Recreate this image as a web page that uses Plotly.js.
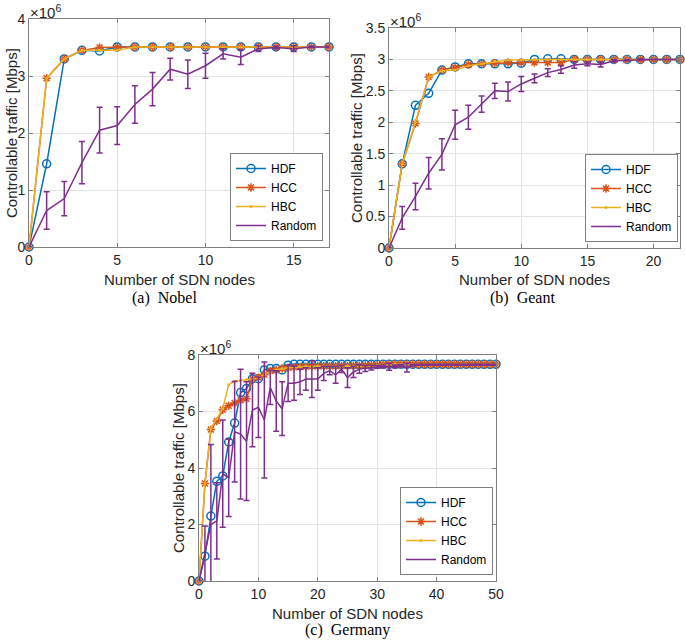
<!DOCTYPE html>
<html>
<head>
<meta charset="utf-8">
<script src="https://cdn.plot.ly/plotly-3.0.1.min.js"></script>
<style>
  body { margin: 0; background: #fff; }
  #chart { width: 685px; height: 643px; }
</style>
</head>
<body>
<div id="chart"></div>
<script>
// values in units of 1e6 Mbps

// (a) Nobel
var xNobel = [0,1,2,3,4,5,6,7,8,9,10,11,12,13,14,15,16,17];
var hdfNobel = [0,1.46,3.30,3.45,3.44,3.51,3.51,3.51,3.51,3.51,3.51,3.51,3.51,3.51,3.51,3.51,3.51,3.51];
var hccNobel = [0,2.96,3.30,3.45,3.50,3.51,3.51,3.51,3.51,3.51,3.51,3.51,3.51,3.51,3.51,3.51,3.51,3.51];
var hbcNobel = [0,2.96,3.30,3.45,3.45,3.45,3.51,3.51,3.51,3.51,3.51,3.51,3.51,3.51,3.51,3.51,3.51,3.51];
var rndNobel = [0,0.64,0.85,1.48,2.05,2.13,2.50,2.77,3.12,3.03,3.18,3.39,3.33,3.48,3.50,3.48,3.51,3.51];
var errNobel = [0,0.33,0.30,0.37,0.40,0.33,0.33,0.29,0.19,0.25,0.22,0.09,0.13,0.05,0.02,0.05,0.01,0.01];

// (b) Geant
var xGeant = [0,1,2,3,4,5,6,7,8,9,10,11,12,13,14,15,16,17,18,19,20,21,22];
var hdfGeant = [0,1.34,2.27,2.46,2.83,2.88,2.93,2.93,2.93,2.93,2.94,3.00,3.01,3.01,3.00,3.00,3.00,3.00,3.00,3.00,3.00,3.00,3.00];
var hccGeant = [0,1.34,1.98,2.72,2.83,2.87,2.92,2.93,2.94,2.95,2.95,2.95,2.95,2.95,3.00,3.00,3.00,3.00,3.00,3.00,3.00,3.00,3.00];
var hbcGeant = [0,1.34,2.00,2.72,2.82,2.83,2.90,2.93,2.97,2.99,2.99,3.00,3.00,3.00,3.00,3.00,3.00,3.00,3.00,3.00,3.00,3.00,3.00];
var rndGeant = [0,0.48,0.82,1.19,1.49,1.96,2.08,2.29,2.50,2.49,2.61,2.70,2.79,2.84,2.91,2.93,2.92,2.98,2.99,3.00,3.00,3.00,3.00];
var errGeant = [0,0.18,0.21,0.25,0.25,0.23,0.19,0.13,0.12,0.15,0.12,0.07,0.06,0.06,0.05,0.03,0.04,0.02,0.01,0.01,0,0,0];

// (c) Germany
var xGermany = [0,1,2,3,4,5,6,7,8,9,10,11,12,13,14,15,16,17,18,19,20,21,22,23,24,25,
  26,27,28,29,30,31,32,33,34,35,36,37,38,39,40,41,42,43,44,45,46,47,48,49,50];
var hdfGermany = [0,0.88,2.30,3.53,3.72,4.92,5.59,6.67,6.81,7.16,7.16,7.47,7.52,7.52,7.47,7.64,
  7.67,7.67,7.67,7.67,7.67,7.67,7.67,7.67,7.67,7.67,7.67,7.67,7.67,7.67,7.67,7.67,7.67,7.67,7.67,
  7.67,7.67,7.67,7.67,7.67,7.67,7.67,7.67,7.67,7.67,7.67,7.67,7.67,7.67,7.67,7.67];
var hccGermany = [0,3.45,5.36,5.66,6.06,6.20,6.30,6.40,6.45,7.15,7.20,7.30,7.43,7.47,7.52,7.55,
  7.57,7.58,7.59,7.60,7.60,7.60,7.60,7.60,7.61,7.61,7.62,7.62,7.63,7.64,7.65,7.66,7.67,7.67,7.67,
  7.67,7.67,7.67,7.67,7.67,7.67,7.67,7.67,7.67,7.67,7.67,7.67,7.67,7.67,7.67,7.67];
var hbcGermany = [0,3.45,5.40,5.75,6.10,6.95,7.08,7.10,7.12,7.15,7.20,7.30,7.42,7.48,7.52,7.55,
  7.57,7.58,7.60,7.60,7.60,7.60,7.60,7.60,7.60,7.60,7.60,7.60,7.60,7.60,7.63,7.65,7.67,7.67,7.67,
  7.67,7.67,7.67,7.67,7.67,7.67,7.67,7.67,7.67,7.67,7.67,7.67,7.67,7.67,7.67,7.67];
var rndGermany = [0,0.95,2.00,2.13,3.80,3.65,5.28,5.20,4.95,6.05,6.15,5.70,6.85,6.37,6.10,7.00,
  7.00,7.05,7.15,7.15,7.15,7.35,7.45,7.30,7.50,7.20,7.40,7.50,7.52,7.55,7.58,7.60,7.58,7.60,7.62,
  7.55,7.64,7.66,7.66,7.66,7.66,7.66,7.66,7.66,7.66,7.66,7.66,7.66,7.66,7.66,7.66];
var errGermany = [0,1.00,2.83,1.35,1.90,1.37,1.78,2.30,2.10,1.30,1.07,2.05,0.60,1.07,0.95,0.65,
  0.60,0.45,0.40,0.65,0.40,0.25,0.15,0.30,0.12,0.35,0.20,0.15,0.10,0.08,0.05,0.05,0.12,0.05,0.04,
  0.15,0.03,0.01,0.01,0.01,0.01,0.01,0.01,0.01,0.01,0.01,0.01,0.01,0.01,0.01,0.01];

var seriesNames = ['HDF', 'HCC', 'HBC', 'Random'];
var colors = ['#0072BD', '#D95319', '#EDB120', '#7E2F8E'];

var W = 685, H = 643;
function px(v) { return v / W; }
function py(v) { return 1 - v / H; }

function makeTraces(x, hdf, hcc, hbc, rnd, err, xa, ya, leg) {
  return [
    {x: x, y: hdf, name: seriesNames[0], xaxis: xa, yaxis: ya, legend: leg,
     type: 'scatter', mode: 'lines+markers', cliponaxis: false,
     line: {color: colors[0], width: 1.5},
     marker: {symbol: 'circle-open', size: 8, color: colors[0], line: {width: 1.5}}},
    {x: x, y: hcc, name: seriesNames[1], xaxis: xa, yaxis: ya, legend: leg,
     type: 'scatter', mode: 'lines+markers', cliponaxis: false,
     line: {color: colors[1], width: 1.5},
     marker: {symbol: 'asterisk-open', size: 7, color: colors[1], line: {width: 1.5, color: colors[1]}}},
    {x: x, y: hbc, name: seriesNames[2], xaxis: xa, yaxis: ya, legend: leg,
     type: 'scatter', mode: 'lines+markers', cliponaxis: false,
     line: {color: colors[2], width: 1.5},
     marker: {symbol: 'circle', size: 3, color: colors[2]}},
    {x: x, y: rnd, name: seriesNames[3], xaxis: xa, yaxis: ya, legend: leg,
     type: 'scatter', mode: 'lines',
     line: {color: colors[3], width: 1.5},
     error_y: {type: 'data', array: err, visible: true, color: colors[3], thickness: 1.5, width: 3}}
  ];
}

var data = []
  .concat(makeTraces(xNobel, hdfNobel, hccNobel, hbcNobel, rndNobel, errNobel, 'x', 'y', 'legend'))
  .concat(makeTraces(xGeant, hdfGeant, hccGeant, hbcGeant, rndGeant, errGeant, 'x2', 'y2', 'legend2'))
  .concat(makeTraces(xGermany, hdfGermany, hccGermany, hbcGermany, rndGermany, errGermany, 'x3', 'y3', 'legend3'));

var tickFont = {family: 'Liberation Sans, Arial, sans-serif', size: 14, color: '#262626'};
var expFont = {family: 'Liberation Sans, Arial, sans-serif', size: 15, color: '#262626'};

function axis(domain, range, dtick, anchor) {
  return {
    domain: domain, range: range, dtick: dtick, anchor: anchor,
    showline: true, mirror: 'ticks', linecolor: '#808080', linewidth: 1,
    ticks: 'inside', ticklen: 4, tickcolor: '#808080',
    showgrid: true, gridcolor: '#e3e3e3', zeroline: false,
    tickfont: tickFont, fixedrange: true
  };
}

function legendBox(right, bottom) {
  return {
    x: px(right), y: py(bottom), xanchor: 'right', yanchor: 'bottom',
    bgcolor: '#ffffff', bordercolor: '#808080', borderwidth: 1,
    font: {family: 'Liberation Sans, Arial, sans-serif', size: 12, color: '#000'},
    itemwidth: 30, tracegroupgap: 0
  };
}

var titleFont = {family: 'Liberation Sans, Arial, sans-serif', size: 15, color: '#262626'};
var captionFont = {family: 'Liberation Serif, serif', size: 16, color: '#000'};

function note(text, x, y, opts) {
  var a = {text: text, x: px(x), y: py(y), xref: 'paper', yref: 'paper',
           showarrow: false, font: titleFont, xanchor: 'center', yanchor: 'middle'};
  for (var k in opts) a[k] = opts[k];
  return a;
}

var annotations = [
  note('Number of SDN nodes', 179, 279),
  note('Controllable traffic [Mbps]', 12, 133, {textangle: -90}),
  note('×10<sup>6</sup>', 28, 0, {xanchor: 'left', yanchor: 'top', font: expFont}),
  note('(a)  Nobel', 164, 298, {font: captionFont}),

  note('Number of SDN nodes', 534, 279),
  note('Controllable traffic [Mbps]', 356, 138, {textangle: -90}),
  note('×10<sup>6</sup>', 388, 9, {xanchor: 'left', yanchor: 'top', font: expFont}),
  note('(b)  Geant', 522, 298, {font: captionFont}),

  note('Number of SDN nodes', 348, 613),
  note('Controllable traffic [Mbps]', 178, 468, {textangle: -90}),
  note('×10<sup>6</sup>', 198, 336, {xanchor: 'left', yanchor: 'top', font: expFont}),
  note('(c)  Germany', 348, 630, {font: captionFont})
];

var layout = {
  width: W, height: H,
  margin: {l: 0, r: 0, t: 0, b: 0},
  paper_bgcolor: '#ffffff', plot_bgcolor: '#ffffff',
  xaxis: axis([px(29), px(329)], [0, 17], 5, 'y'),
  yaxis: axis([py(247), py(19)], [0, 4], 1, 'x'),
  xaxis2: axis([px(389), px(680)], [0, 22], 5, 'y2'),
  yaxis2: axis([py(248), py(28)], [0, 3.5], 0.5, 'x2'),
  xaxis3: axis([px(199), px(496)], [0, 50], 10, 'y3'),
  yaxis3: axis([py(581), py(355)], [0, 8], 2, 'x3'),
  legend: legendBox(323, 241),
  legend2: legendBox(678, 242),
  legend3: legendBox(493, 575),
  annotations: annotations,
  showlegend: true
};

Plotly.newPlot('chart', data, layout, {displayModeBar: false, staticPlot: true});
</script>
</body>
</html>
